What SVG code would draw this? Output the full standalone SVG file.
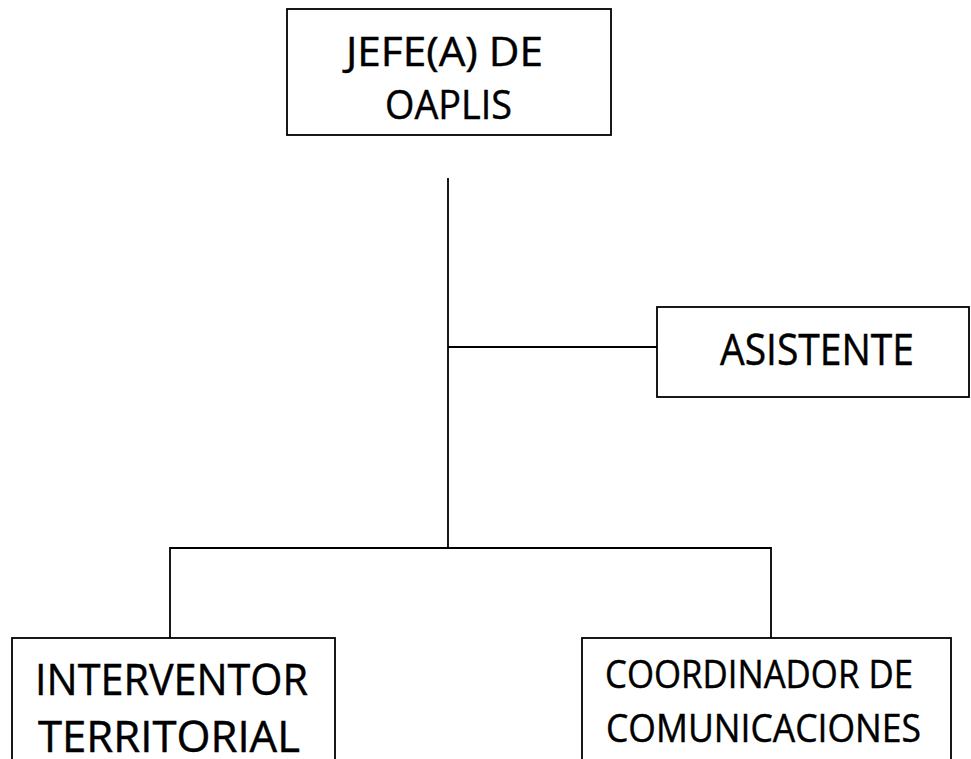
<svg xmlns="http://www.w3.org/2000/svg" width="971" height="759" viewBox="0 0 971 759">
  <style>
    .box { fill: #ffffff; stroke: #000000; stroke-width: 1.8; }
    .link { fill: none; stroke: #000000; stroke-width: 1.8; }
    .label { font-family: "Open Sans", "Noto Sans", "Liberation Sans", sans-serif; fill: #000000; stroke: #000000; stroke-width: 0.45; }
  </style>
  <rect width="971" height="759" fill="#ffffff"/>

  <!-- connectors -->
  <g id="connectors">
    <line class="link" x1="448" y1="178" x2="448" y2="548"/>
    <line class="link" x1="448" y1="347" x2="657" y2="347"/>
    <polyline class="link" points="170,638 170,548 771,548 771,638"/>
  </g>

  <g id="jefe">
    <rect class="box" x="287" y="9" width="324" height="126"/>
    <text class="label" x="346" y="66" font-size="40" textLength="197" lengthAdjust="spacingAndGlyphs">JEFE(A) DE</text>
    <text class="label" x="385" y="119" font-size="40" textLength="127" lengthAdjust="spacingAndGlyphs">OAPLIS</text>
  </g>

  <g id="asistente">
    <rect class="box" x="657" y="307" width="312" height="90"/>
    <text class="label" x="720" y="365" font-size="43" textLength="194" lengthAdjust="spacingAndGlyphs">ASISTENTE</text>
  </g>

  <g id="interventor">
    <rect class="box" x="12" y="638" width="323" height="140"/>
    <text class="label" x="35" y="695" font-size="44" textLength="273" lengthAdjust="spacingAndGlyphs">INTERVENTOR</text>
    <text class="label" x="38" y="752" font-size="43" textLength="262" lengthAdjust="spacingAndGlyphs">TERRITORIAL</text>
  </g>

  <g id="coordinador">
    <rect class="box" x="582" y="638" width="369" height="140"/>
    <text class="label" x="605" y="688" font-size="38" textLength="308" lengthAdjust="spacingAndGlyphs">COORDINADOR DE</text>
    <text class="label" x="606" y="742" font-size="39" textLength="315" lengthAdjust="spacingAndGlyphs">COMUNICACIONES</text>
  </g>
</svg>
